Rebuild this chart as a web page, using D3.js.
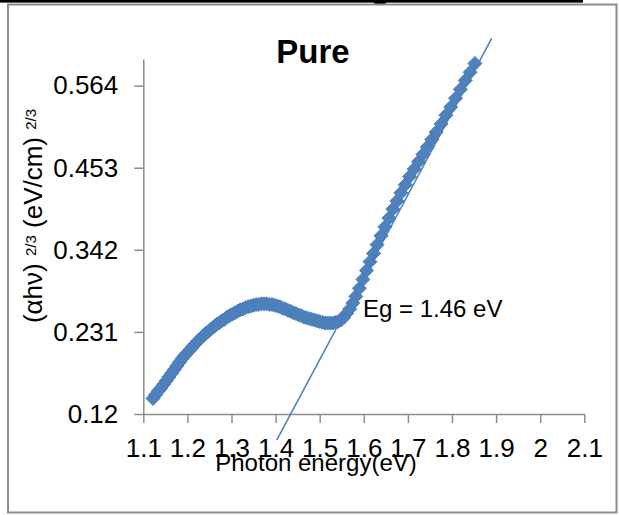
<!DOCTYPE html>
<html>
<head>
<meta charset="utf-8">
<script src="https://cdnjs.cloudflare.com/ajax/libs/d3/7.8.5/d3.min.js"></script>
<style>
body { margin: 0; background: #fff; }
text { font-family: "Liberation Sans", Arial, sans-serif; fill: #000; }
</style>
</head>
<body>
<script>

// photon energy (eV) and (ahv)^2/3
var energy = [1.122, 1.128, 1.134, 1.140, 1.146, 1.152, 1.158, 1.164, 1.170, 1.176,
    1.182, 1.188, 1.194, 1.200, 1.206, 1.212, 1.218, 1.224, 1.230, 1.236,
    1.242, 1.248, 1.254, 1.260, 1.266, 1.272, 1.278, 1.284, 1.290, 1.296,
    1.302, 1.308, 1.314, 1.320, 1.326, 1.332, 1.338, 1.344, 1.350, 1.356,
    1.362, 1.368, 1.374, 1.380, 1.386, 1.392, 1.398, 1.404, 1.410, 1.416,
    1.422, 1.428, 1.434, 1.440, 1.446, 1.452, 1.458, 1.464, 1.470, 1.476,
    1.482, 1.488, 1.494, 1.500, 1.506, 1.512, 1.518, 1.524, 1.530, 1.536,
    1.542, 1.548, 1.554, 1.561, 1.568, 1.575, 1.582, 1.590, 1.598, 1.606,
    1.614, 1.622, 1.630, 1.639, 1.648, 1.657, 1.666, 1.675, 1.684, 1.694,
    1.704, 1.714, 1.724, 1.734, 1.744, 1.754, 1.764, 1.775, 1.786, 1.797,
    1.808, 1.819, 1.830, 1.841, 1.852];
var ahv = [0.141, 0.146, 0.151, 0.155, 0.160, 0.165, 0.170, 0.175, 0.180, 0.185,
    0.190, 0.195, 0.199, 0.203, 0.207, 0.211, 0.215, 0.219, 0.222, 0.226,
    0.229, 0.232, 0.235, 0.238, 0.241, 0.243, 0.246, 0.248, 0.251, 0.253,
    0.255, 0.257, 0.259, 0.261, 0.262, 0.264, 0.265, 0.266, 0.267, 0.268,
    0.268, 0.269, 0.269, 0.269, 0.268, 0.268, 0.267, 0.266, 0.265, 0.263,
    0.262, 0.260, 0.259, 0.257, 0.256, 0.254, 0.253, 0.251, 0.250, 0.249,
    0.248, 0.247, 0.246, 0.245, 0.244, 0.243, 0.243, 0.243, 0.243, 0.244,
    0.245, 0.247, 0.250, 0.256, 0.262, 0.270, 0.279, 0.290, 0.302, 0.314,
    0.326, 0.337, 0.349, 0.361, 0.373, 0.385, 0.397, 0.408, 0.419, 0.430,
    0.441, 0.451, 0.461, 0.471, 0.481, 0.491, 0.501, 0.512, 0.524, 0.535,
    0.547, 0.559, 0.571, 0.582, 0.594];

// straight line drawn for the band gap
var fitX = [1.4025, 1.890];
var fitY = [0.0848, 0.628];

var xTicks = [1.1, 1.2, 1.3, 1.4, 1.5, 1.6, 1.7, 1.8, 1.9, 2, 2.1];
var yTicks = [0.12, 0.231, 0.342, 0.453, 0.564];

var title = "Pure";
var xTitle = "Photon energy(eV)";
var egLabel = "Eg = 1.46 eV";

var blue = "#4F81BD";
var axisGray = "#8c8c8c";

//creating SVG
var svg = d3.select("body").append("svg");
svg.attr("width", 619);
svg.attr("height", 515);

// cut-off header above the chart
svg.append("rect").attr("x", 0).attr("y", 0).attr("width", 583).attr("height", 2.6).attr("fill", "#000");
svg.append("ellipse").attr("cx", 380).attr("cy", 1).attr("rx", 7).attr("ry", 4).attr("fill", "#000");

// chart border
svg.append("rect").attr("x", 8).attr("y", 4.5).attr("width", 608.5).attr("height", 508)
    .attr("fill", "none").attr("stroke", axisGray).attr("stroke-width", 2);

var x = d3.scaleLinear().domain([1.1, 2.1]).range([143.3, 584.3]);
var y = d3.scaleLinear().domain([0.12, 0.6]).range([414, 59]);

var fmt = function(d){ return String(d); };

var xAxis = svg.append("g").attr("transform", "translate(0,414)")
    .call(d3.axisBottom(x).tickValues(xTicks).tickSize(9).tickSizeOuter(0).tickPadding(16).tickFormat(fmt));
var yAxis = svg.append("g").attr("transform", "translate(143.3,0)")
    .call(d3.axisLeft(y).tickValues(yTicks).tickSize(9).tickSizeOuter(0).tickPadding(16).tickFormat(fmt));

[xAxis, yAxis].forEach(function(ax){
    ax.selectAll("path, line").attr("stroke", axisGray).attr("stroke-width", 1.5);
    ax.selectAll("text").attr("font-family", "Liberation Sans, Arial, sans-serif")
        .attr("font-size", 26).attr("fill", "#000");
});

// data markers (diamonds)
var pts = energy.map(function(e, i){ return [e, ahv[i]]; });
svg.append("g").selectAll("path").data(pts).enter().append("path")
    .attr("d", "M0,-7L7,0L0,7L-7,0Z")
    .attr("transform", function(d){ return "translate(" + x(d[0]) + "," + y(d[1]) + ")"; })
    .attr("fill", blue).attr("stroke", "#4A7EBB").attr("stroke-width", 1);

// fitted line
svg.append("line")
    .attr("x1", x(fitX[0])).attr("y1", y(fitY[0]))
    .attr("x2", x(fitX[1])).attr("y2", y(fitY[1]))
    .attr("stroke", "#4A7EBB").attr("stroke-width", 1.5);

// titles
svg.append("text").attr("x", 313).attr("y", 63).attr("text-anchor", "middle")
    .attr("font-size", 33).attr("font-weight", "bold").text(title);

svg.append("text").attr("x", 316).attr("y", 471).attr("text-anchor", "middle")
    .attr("font-size", 24).text(xTitle);

svg.append("text").attr("x", 363).attr("y", 317).attr("font-size", 24).text(egLabel);

var yt = svg.append("text").attr("transform", "translate(42,216) rotate(-90)")
    .attr("text-anchor", "middle").attr("font-size", 26);
yt.append("tspan").text("(\u03b1h\u03bd) ");
yt.append("tspan").attr("font-size", 15).attr("dy", -6).text("2/3");
yt.append("tspan").attr("dy", 6).text("  (eV/cm) ");
yt.append("tspan").attr("font-size", 15).attr("dy", -6).text("2/3");

</script>
</body>
</html>
